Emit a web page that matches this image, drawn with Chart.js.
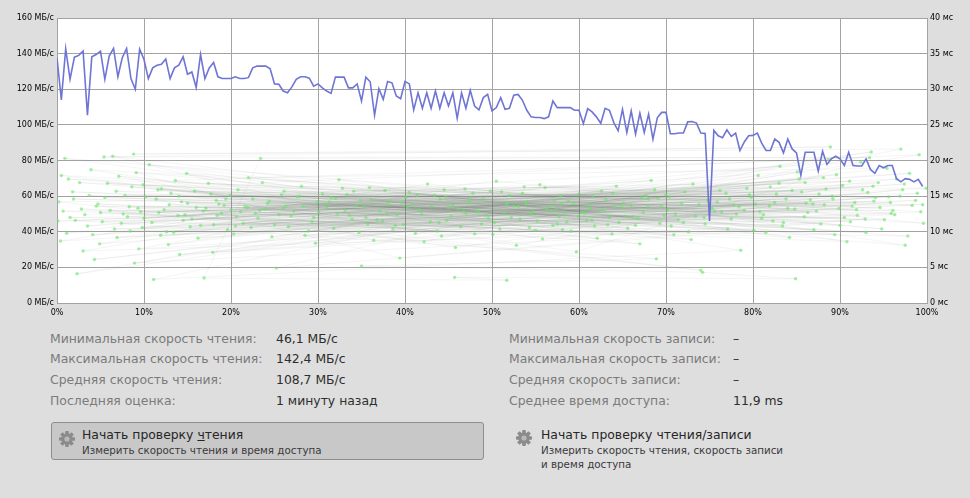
<!DOCTYPE html>
<html>
<head>
<meta charset="utf-8">
<script src="https://cdn.jsdelivr.net/npm/chart.js@4/dist/chart.umd.min.js"></script>
<style>
  body { margin: 0; background: #dedede; font-family: "DejaVu Sans", sans-serif; width: 970px; height: 498px; overflow: hidden; position: relative; }
  #bench { position: absolute; left: 0; top: 0; }
  .lbl, .val { position: absolute; font-size: 12.4px; white-space: nowrap; line-height: 16px; }
  .lbl { color: #7b7b7b; }
  .val { color: #2e2e2e; }
  .btn { position: absolute; box-sizing: border-box; }
  .btn svg { position: absolute; }
  .btn .title { position: absolute; font-size: 12.4px; color: #262626; white-space: nowrap; line-height: 15px; }
  .btn .sub { position: absolute; font-size: 10.3px; color: #3a3a3a; white-space: nowrap; line-height: 14px; }
  #btnRead { left: 51px; top: 422px; width: 433px; height: 38px; background: #c8c8c8; border: 1px solid #8e8e8e; border-radius: 3px; }
  #btnRW { left: 510px; top: 422px; width: 300px; height: 50px; }
</style>
</head>
<body>
<canvas id="bench" width="970" height="323"></canvas>

<div class="lbl" style="left:50px;top:331px">Минимальная скорость чтения:</div>
<div class="val" style="left:276px;top:331px">46,1 МБ/с</div>
<div class="lbl" style="left:50px;top:351px">Максимальная скорость чтения:</div>
<div class="val" style="left:276px;top:351px">142,4 МБ/с</div>
<div class="lbl" style="left:50px;top:372px">Средняя скорость чтения:</div>
<div class="val" style="left:276px;top:372px">108,7 МБ/с</div>
<div class="lbl" style="left:50px;top:393px">Последняя оценка:</div>
<div class="val" style="left:276px;top:393px">1 минуту назад</div>

<div class="lbl" style="left:509px;top:331px">Минимальная скорость записи:</div>
<div class="val" style="left:733px;top:331px">–</div>
<div class="lbl" style="left:509px;top:351px">Максимальная скорость записи:</div>
<div class="val" style="left:733px;top:351px">–</div>
<div class="lbl" style="left:509px;top:372px">Средняя скорость записи:</div>
<div class="val" style="left:733px;top:372px">–</div>
<div class="lbl" style="left:509px;top:393px">Среднее время доступа:</div>
<div class="val" style="left:733px;top:393px">11,9 ms</div>

<div class="btn" id="btnRead">
  <svg style="left:6px;top:7px" width="18" height="18" viewBox="-9 -9 18 18"><g class="gear"></g></svg>
  <span class="title" style="left:30px;top:4px">Начать проверку <u>ч</u>тения</span>
  <span class="sub" style="left:30px;top:20px">Измерить скорость чтения и время доступа</span>
</div>
<div class="btn" id="btnRW">
  <svg style="left:5px;top:7px" width="18" height="18" viewBox="-9 -9 18 18"><g class="gear"></g></svg>
  <span class="title" style="left:31px;top:5px">Начать проверку чтения/записи</span>
  <span class="sub" style="left:31px;top:21px">Измерить скорость чтения, скорость записи</span>
  <span class="sub" style="left:31px;top:35px">и время доступа</span>
</div>

<script>
// read rate samples (MB/s), one every 0.5% of the disk
const readStepPct = 0.5;
const readRate = [
  137.7, 114.0, 142.7, 125.6, 138.0, 139.0, 141.4, 105.5, 138.2, 139.5,
  141.4, 125.6, 138.6, 142.9, 127.0, 137.7, 142.9, 126.0, 120.0, 142.5,
  136.7, 126.0, 132.0, 133.5, 134.0, 137.0, 126.0, 132.0, 133.5, 138.2,
  128.4, 129.7, 121.0, 139.5, 126.0, 132.0, 135.0, 127.0, 126.0, 126.0,
  126.0, 127.0, 126.0, 126.0, 126.5, 132.0, 133.0, 133.0, 133.0, 131.5,
  123.0, 122.8, 119.0, 118.0, 121.3, 125.6, 127.0, 127.0, 126.2, 121.7,
  123.0, 120.8, 119.0, 117.7, 126.8, 126.8, 126.8, 120.8, 120.8, 123.0,
  113.4, 126.8, 124.2, 105.4, 120.3, 114.3, 124.4, 123.6, 116.2, 114.7,
  124.4, 123.0, 108.4, 118.0, 109.3, 118.0, 109.3, 119.0, 109.3, 118.0,
  110.6, 118.0, 103.7, 118.0, 109.3, 119.3, 110.6, 108.4, 115.3, 117.1,
  107.8, 109.7, 115.3, 108.7, 109.3, 116.6, 117.1, 113.8, 108.2, 104.5,
  104.1, 104.1, 103.5, 104.5, 113.4, 109.7, 109.7, 109.7, 109.7, 108.2,
  108.2, 100.7, 109.1, 107.3, 104.5, 100.9, 109.3, 108.2, 101.3, 96.7,
  108.7, 95.7, 107.8, 94.8, 106.5, 95.7, 106.0, 92.0, 104.0, 107.0,
  107.0, 95.0, 95.0, 95.4, 95.4, 101.7, 101.9, 101.0, 95.4, 95.2,
  46.1, 96.9, 93.9, 92.8, 97.2, 93.5, 95.4, 85.6, 90.4, 93.9,
  94.1, 95.4, 89.8, 85.6, 85.6, 92.0, 90.2, 84.3, 92.0, 86.5,
  84.3, 71.7, 84.6, 84.6, 84.6, 74.1, 85.2, 77.8, 80.9, 82.4,
  80.9, 77.2, 84.6, 77.2, 76.9, 76.9, 80.9, 75.0, 72.8, 77.2,
  75.9, 77.2, 77.2, 69.8, 68.0, 69.8, 69.4, 68.0, 69.4, 65.4
];

// access time samples: disk position (%) and seek time (ms)
const accessPos = [
  3.2, 47.5, 88.1, 21.4, 63.8, 8.6, 35.2, 76.4, 14.9, 54.3, 97.2, 29.7, 69.1, 1.1, 42.6, 83.5, 18.3, 59.7, 92.4, 25.8,
  66.2, 6.4, 38.9, 79.3, 11.7, 51.1, 94.8, 32.4, 72.9, 4.7, 45.3, 86.6, 16.2, 57.4, 99.1, 23.6, 61.5, 9.4, 40.1, 81.2,
  13.1, 52.8, 90.3, 27.2, 67.7, 2.3, 36.8, 77.8, 19.6, 56.1, 95.9, 31.3, 70.6, 7.1, 44.2, 85.1, 12.3, 49.6, 89.4, 22.5,
  64.9, 0.4, 37.7, 74.5, 17.4, 58.8, 98.3, 28.9, 68.3, 5.2, 41.9, 82.7, 15.5, 53.9, 93.6, 24.7, 62.6, 10.2, 39.4, 80.1,
  20.8, 55.2, 91.7, 33.6, 71.8, 3.9, 46.4, 87.3, 14.1, 60.4, 96.5, 26.3, 65.6, 8.1, 43.4, 84.2, 18.9, 50.5, 99.6, 30.5,
  73.4, 1.8, 48.2, 78.6, 11.1, 57.9, 89.9, 34.7, 69.8, 6.9, 40.8, 86.0, 21.9, 63.1, 0.9, 52.2, 94.1, 28.1, 75.9, 16.8,
  45.8, 81.9, 9.8, 37.1, 67.0, 23.1, 59.1, 97.8, 32.0, 72.2, 4.3, 43.9, 88.7, 13.6, 55.8, 92.9, 25.2, 64.3, 7.8, 49.0,
  84.8, 19.2, 61.0, 99.9, 35.9, 77.1, 2.8, 41.2, 80.6, 12.8, 53.5, 90.8, 29.3, 70.2, 5.8, 47.0, 95.4, 22.0, 66.8, 10.6,
  38.3, 82.3, 17.9, 58.3, 93.2, 31.8, 74.0, 0.2, 44.7, 87.8, 15.0, 50.9, 98.7, 26.9, 62.1, 8.9, 39.8, 79.8, 20.3, 56.6,
  91.1, 34.1, 68.7, 3.5, 46.9, 85.6, 11.4, 54.7, 96.1, 24.2, 63.5, 6.1, 42.2, 83.1, 14.5, 51.8, 89.1, 30.1, 75.3, 1.5,
  48.8, 92.0, 19.9, 60.0, 97.5, 27.6, 71.4, 9.1, 36.4, 78.1, 16.5, 57.0, 94.4, 33.1, 65.1, 4.9, 40.5, 81.5, 12.0, 52.5,
  86.9, 23.9, 61.8, 7.4, 45.0, 88.4, 18.6, 55.5, 99.3, 28.5, 69.5, 2.6, 41.6, 76.9, 13.9, 50.1, 93.9, 35.5, 73.1, 10.0,
  47.8, 84.5, 21.1, 58.6, 90.0, 32.8, 67.4, 5.5, 43.1, 80.3, 15.8, 53.2, 96.9, 25.5, 62.9, 8.3, 38.0, 82.0, 17.1, 59.4,
  91.4, 29.9, 70.9, 0.7, 46.1, 87.0, 12.6, 54.0, 98.0, 22.8, 64.6, 6.6, 39.1, 79.0, 20.0, 56.9, 95.1, 31.0, 72.6, 3.0,
  44.5, 85.9, 14.3, 51.4, 89.6, 26.6, 66.0, 9.6, 37.4, 77.5, 18.0, 60.7, 93.0, 34.4, 74.8, 1.3, 48.5, 83.8, 11.9, 57.7,
  97.0, 8.8, 88.9, 5.4, 93.4, 23.4, 16.9, 51.7, 45.7, 84.9, 74.2, 35.0, 68.9,
  2.1, 57.2, 33.9, 79.6, 12.9, 66.5, 44.0, 91.9, 20.6, 70.4, 6.8, 49.3, 86.3, 27.9, 60.9, 15.3, 53.7, 95.6, 38.6, 75.6,
  0.5, 42.9, 82.5, 24.4, 63.9, 9.3, 48.0, 98.9, 30.8, 72.0, 17.7, 58.1, 89.2, 36.1, 67.9, 4.1, 51.6, 93.8, 22.3, 61.3,
  11.6, 46.7, 80.8, 28.3, 76.2, 7.6, 55.0, 96.3, 34.9, 65.3, 14.7, 52.0, 87.6, 25.0, 71.1, 1.9, 40.3, 83.4, 19.4, 59.9,
  90.5, 32.2, 68.0, 5.0, 43.7, 85.3, 13.4, 56.3, 99.5, 26.1, 63.3, 10.9, 47.3, 78.4, 21.6, 61.6, 92.6, 37.9, 73.8, 3.7,
  50.3, 84.0, 16.0, 54.5, 97.4, 29.5, 69.3, 8.4, 41.4, 81.0, 23.3, 58.0, 94.6, 35.7, 74.4, 0.1, 45.5, 88.2, 18.4, 64.1,
  31.5, 77.3, 9.9, 53.0, 91.2, 26.0, 70.0, 14.0, 49.8, 86.1, 39.6, 62.4, 4.5, 57.5, 95.8, 33.3, 67.2, 20.5, 83.0, 44.8
];
const accessMs = [
  12.4, 14.1, 17.6, 11.2, 9.7, 16.3, 13.5, 12.8, 18.2, 10.6, 15.9, 8.4, 14.7, 9.8, 16.7, 11.3, 14.4, 7.2, 19.8, 15.2,
  12.1, 20.6, 10.9, 16.1, 12.7, 15.6, 10.4, 17.3, 8.9, 13.9, 12.2, 14.5, 9.1, 13.3, 20.8, 16.9, 11.6, 7.6, 14.8, 12.4,
  15.4, 8.1, 16.5, 12.9, 15.1, 4.1, 11.7, 13.8, 10.3, 16.2, 12.6, 14.2, 10.8, 17.8, 9.4, 18.4, 13.1, 11.9, 9.6, 14.6,
  13.4, 8.7, 15.8, 11.1, 16.8, 14.3, 13.7, 10.1, 17.2, 11.4, 12.5, 15.3, 11.8, 13.9, 21.2, 9.3, 15.7, 14.9, 6.3, 10.2,
  15.9, 11.5, 14.1, 12.3, 14.0, 18.7, 10.7, 12.9, 6.8, 12.7, 17.4, 13.6, 10.5, 12.1, 15.1, 9.2, 12.6, 17.1, 11.2, 15.3,
  12.2, 15.6, 13.0, 7.4, 3.3, 15.0, 13.3, 9.9, 12.3, 9.2, 13.8, 16.9, 13.4, 14.5, 20.3, 12.0, 14.8, 16.4, 14.2, 12.9,
  7.8, 13.6, 10.6, 12.9, 8.3, 11.9, 10.1, 9.4, 14.7, 15.6, 6.1, 11.3, 20.1, 17.2, 9.0, 11.8, 4.9, 16.4, 15.1, 14.6,
  13.2, 13.7, 13.8, 16.1, 16.2, 10.4, 13.2, 9.8, 17.9, 8.2, 15.4, 8.6, 11.4, 13.1, 16.8, 12.6, 18.9, 17.6, 11.9, 19.4,
  14.3, 11.5, 7.1, 12.4, 15.5, 10.5, 4.6, 14.2, 14.9, 11.1, 14.0, 10.4, 14.4, 12.2, 9.1, 5.6, 11.0, 14.8, 9.7, 13.6,
  17.1, 15.7, 15.9, 10.8, 16.0, 15.6, 14.6, 12.8, 13.0, 14.0, 12.0, 13.0, 8.6, 19.2, 11.6, 14.0, 15.0, 12.7, 13.3, 12.0,
  11.1, 12.3, 15.1, 15.3, 8.1, 14.9, 11.7, 18.3, 8.8, 12.5, 10.9, 10.9, 16.9, 13.0, 14.0, 8.3, 15.5, 9.9, 16.0, 13.6,
  13.9, 13.2, 10.8, 11.2, 13.4, 16.0, 13.9, 16.6, 12.8, 9.5, 13.6, 16.9, 13.1, 15.4, 12.3, 9.6, 14.3, 12.0, 16.7, 11.9,
  15.4, 15.8, 12.8, 11.4, 10.9, 16.1, 12.7, 14.8, 13.6, 13.9, 15.7, 11.8, 15.0, 12.4, 13.0, 13.5, 13.9, 16.3, 13.3, 14.0,
  13.6, 14.1, 9.6, 12.9, 13.2, 10.3, 10.0, 14.2, 18.2, 12.6, 11.3, 10.4, 12.4, 13.0, 13.1, 12.9, 11.7, 13.3, 10.0, 7.3,
  15.9, 12.1, 14.2, 12.5, 18.0, 10.7, 13.7, 12.8, 11.5, 11.8, 11.0, 12.6, 9.9, 13.7, 14.4, 17.4, 12.8, 14.6, 9.5, 12.1,
  21.6, 20.9, 21.9, 20.5, 20.4, 20.3, 3.5, 3.2, 3.6, 3.4, 4.3, 5.2, 6.2,
  11.6, 14.4, 11.8, 15.2, 13.8, 10.9, 14.6, 13.1, 12.1, 14.9, 15.7, 12.3, 12.7, 15.0, 11.6, 10.7, 16.3, 14.9, 10.4, 12.9,
  17.9, 11.4, 14.1, 14.3, 15.4, 13.3, 9.7, 15.4, 13.9, 11.3, 15.3, 10.3, 14.6, 14.5, 13.4, 9.6, 13.9, 16.4, 10.6, 13.3,
  15.9, 12.9, 12.8, 13.6, 15.8, 12.5, 10.2, 12.4, 14.4, 12.2, 12.4, 15.1, 15.3, 11.0, 12.5, 14.6, 13.4, 10.8, 14.6, 12.2,
  12.0, 12.5, 14.6, 12.7, 10.1, 17.4, 9.9, 13.2, 13.8, 15.7, 11.0, 11.3, 14.4, 13.5, 13.5, 15.0, 15.9, 12.6, 13.8, 15.1,
  11.3, 13.3, 13.4, 12.6, 16.7, 12.0, 11.2, 10.1, 15.1, 11.9, 13.0, 13.9, 13.4, 11.1, 12.0, 11.5, 13.7, 13.8, 12.3, 13.5,
  14.8, 14.6, 16.6, 13.5, 11.4, 13.3, 15.2, 15.0, 15.7, 14.0, 14.1, 12.9, 13.6, 11.1, 14.1, 15.2, 14.8, 10.8, 16.8, 11.6
];

const rateTicks = { min: 0, max: 160, step: 20, unit: ' МБ/с' };
const msTicks = { min: 0, max: 40, step: 5, unit: ' мс' };
const posTicks = { min: 0, max: 100, step: 10, unit: '%' };

const readPoints = readRate.map((v, i) => ({ x: i * readStepPct, y: v }));
const accessPoints = accessPos.map((p, i) => ({ x: p, y: accessMs[i] }));

// gear icons on the two buttons
document.querySelectorAll('.gear').forEach(g => {
  let s = '';
  for (let k = 0; k < 8; k++) {
    s += `<rect x="-1.8" y="-8" width="3.6" height="4" rx="0.8" fill="#8b8b8b" transform="rotate(${k * 45})"/>`;
  }
  s += '<circle r="5.6" fill="#8b8b8b"/><circle r="2.6" fill="#b9b9b9"/>';
  g.innerHTML = s;
});

// white plot background
const plotBg = {
  id: 'plotBg',
  beforeDraw(chart) {
    const { ctx, chartArea: a } = chart;
    ctx.save();
    ctx.fillStyle = '#ffffff';
    ctx.fillRect(a.left, a.top, a.right - a.left, a.bottom - a.top);
    ctx.restore();
  }
};

const tickFont = { family: "'DejaVu Sans', sans-serif", size: 8 };
const gridColor = '#a3a3a3';

new Chart(document.getElementById('bench'), {
  type: 'scatter',
  data: {
    datasets: [
      {
        label: 'read',
        data: readPoints,
        showLine: true,
        yAxisID: 'yRate',
        borderColor: '#6f75d3',
        borderWidth: 1.6,
        pointRadius: 0,
        tension: 0,
        order: 0
      },
      {
        label: 'access',
        data: accessPoints,
        showLine: true,
        yAxisID: 'yMs',
        borderColor: 'rgba(100, 120, 100, 0.1)',
        borderWidth: 0.7,
        pointRadius: 1.7,
        pointBorderWidth: 0,
        pointBackgroundColor: 'rgba(100, 230, 100, 0.6)',
        order: 1
      }
    ]
  },
  options: {
    responsive: false,
    animation: false,
    devicePixelRatio: 1,
    layout: { padding: { top: 18, left: 0, right: 0, bottom: 0 } },
    plugins: { legend: { display: false }, tooltip: { enabled: false } },
    scales: {
      x: {
        type: 'linear',
        min: posTicks.min, max: posTicks.max,
        afterFit: s => { s.height = 20; },
        grid: { color: gridColor, drawTicks: false },
        border: { color: gridColor },
        ticks: { stepSize: posTicks.step, padding: 5, color: '#000', font: tickFont, maxRotation: 0,
                 callback: v => v + posTicks.unit }
      },
      yRate: {
        position: 'left',
        min: rateTicks.min, max: rateTicks.max,
        afterFit: s => { s.width = 57; },
        grid: { color: gridColor, drawTicks: false },
        border: { color: gridColor },
        ticks: { stepSize: rateTicks.step, padding: 3, color: '#000', font: tickFont,
                 callback: v => v + rateTicks.unit }
      },
      yMs: {
        position: 'right',
        min: msTicks.min, max: msTicks.max,
        afterFit: s => { s.width = 43; },
        grid: { display: false, drawTicks: false },
        border: { color: gridColor },
        ticks: { stepSize: msTicks.step, padding: 3, color: '#000', font: tickFont,
                 callback: v => v + msTicks.unit }
      }
    }
  },
  plugins: [plotBg]
});
</script>
</body>
</html>
